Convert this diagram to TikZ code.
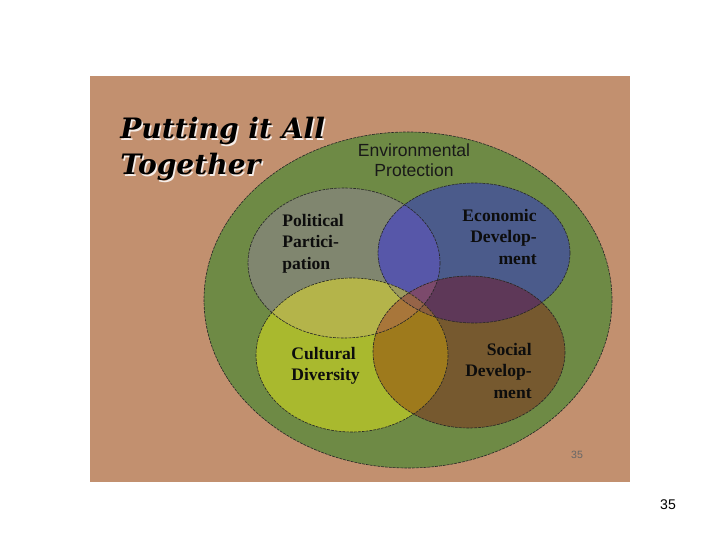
\documentclass[tikz,border=0pt]{standalone}
\usepackage{fontspec}
\setmainfont{Liberation Serif}
\setsansfont{Liberation Sans}
\newfontfamily\titlefont{DejaVu Serif}
\usepackage{xcolor}
\usepackage{tikz}
\usetikzlibrary{positioning}
\definecolor{slidebrown}{HTML}{C2906F}
\definecolor{envgreen}{HTML}{6E8A45}
\definecolor{polgray}{HTML}{80866F}
\definecolor{ecoblue}{HTML}{4B5B8B}
\definecolor{culyellow}{HTML}{A9B92E}
\definecolor{socbrown}{HTML}{76592F}
\definecolor{polecoc}{HTML}{5757A9}
\definecolor{polculc}{HTML}{B4B44A}
\definecolor{polsocc}{HTML}{A67848}
\definecolor{ecosocc}{HTML}{5E3858}
\definecolor{culsocc}{HTML}{9E7A1C}
\definecolor{ecoculc}{HTML}{8A8C68}
\definecolor{triplepes}{HTML}{7C4A6C}
\definecolor{triplepcs}{HTML}{A8763A}
\definecolor{triplepec}{HTML}{9C9A5E}
\definecolor{tripleecs}{HTML}{8A5E3C}
\definecolor{allfour}{HTML}{966448}
\tikzstyle{rim} = [draw=black!85, line width=0.35pt, dash pattern=on 1.6pt off 0.6pt]
\tikzstyle{circlelabel} = [font=\bfseries\fontsize{10}{12.2}\selectfont, text=black!95, inner sep=0pt]
\tikzstyle{titletext} = [font=\titlefont\bfseries\itshape\fontsize{16}{20.4}\selectfont, align=left, inner sep=0pt]

\def\polpath{(pol) ellipse [x radius=96, y radius=75]}
\def\ecopath{(eco) ellipse [x radius=96, y radius=70]}
\def\culpath{(cul) ellipse [x radius=96, y radius=77]}
\def\socpath{(soc) ellipse [x radius=96, y radius=76]}

\begin{document}
\begin{tikzpicture}[x=0.02cm, y=-0.02cm]
        \useasboundingbox (0,0) rectangle (720,540);
        \fill[white] (0,0) rectangle (720,540);
        \fill[slidebrown] (90,76) rectangle (630,482);
        % Centres
        \coordinate (env) at (408,300);
        \coordinate (pol) at (344,263);
        \coordinate (eco) at (474,253);
        \coordinate (cul) at (352,355);
        \coordinate (soc) at (469,352);
        % Big ellipse
        \fill[envgreen] (env) ellipse [x radius=204, y radius=168];
        \draw[rim] (env) ellipse [x radius=204, y radius=168];
        % Single sets
        \fill[polgray] \polpath;
        \fill[ecoblue] \ecopath;
        \fill[culyellow] \culpath;
        \fill[socbrown] \socpath;
        % Pairs
        \begin{scope} \clip \polpath; \fill[polecoc] \ecopath; \end{scope}
        \begin{scope} \clip \polpath; \fill[polculc] \culpath; \end{scope}
        \begin{scope} \clip \polpath; \fill[polsocc] \socpath; \end{scope}
        \begin{scope} \clip \ecopath; \fill[ecosocc] \socpath; \end{scope}
        \begin{scope} \clip \ecopath; \fill[ecoculc] \culpath; \end{scope}
        \begin{scope} \clip \culpath; \fill[culsocc] \socpath; \end{scope}
        % Triples
        \begin{scope} \clip \polpath; \clip \ecopath; \fill[triplepes] \socpath; \end{scope}
        \begin{scope} \clip \polpath; \clip \culpath; \fill[triplepcs] \socpath; \end{scope}
        \begin{scope} \clip \polpath; \clip \ecopath; \fill[triplepec] \culpath; \end{scope}
        \begin{scope} \clip \ecopath; \clip \culpath; \fill[tripleecs] \socpath; \end{scope}
        \begin{scope} \clip \polpath; \clip \ecopath; \clip \culpath; \fill[allfour] \socpath; \end{scope}
        % Outlines
        \draw[rim] \polpath;
        \draw[rim] \ecopath;
        \draw[rim] \culpath;
        \draw[rim] \socpath;
        % Place labels
        \node[titletext, text=white!85!slidebrown, anchor=north west] (titleshadow) at (121.5,118.5) {Putting it All\\Together};
        \node[titletext, anchor=north west] (title) at (120,117) {Putting it All\\Together};
        \node[font=\sffamily\fontsize{10}{11.4}\selectfont, align=center, text=black!90] (envlabel) at (414,160) {Environmental\\Protection};
        \node[circlelabel, align=left, anchor=north west] (pollabel) at (282,214) {Political\\Partici-\\pation};
        \node[circlelabel, align=right, anchor=north east] (ecolabel) at (537,209) {Economic\\Develop-\\ment};
        \node[circlelabel, align=left, anchor=north west] (cullabel) at (291,347) {Cultural\\Diversity};
        \node[circlelabel, align=right, anchor=north east] (soclabel) at (532,343) {Social\\Develop-\\ment};
        \node[font=\sffamily\fontsize{6}{7}\selectfont, text=black!60] (slidenum) at (577,455) {35};
        \node[font=\sffamily\fontsize{8}{9}\selectfont] (pagenum) at (668,505) {35};
\end{tikzpicture}
\end{document}
